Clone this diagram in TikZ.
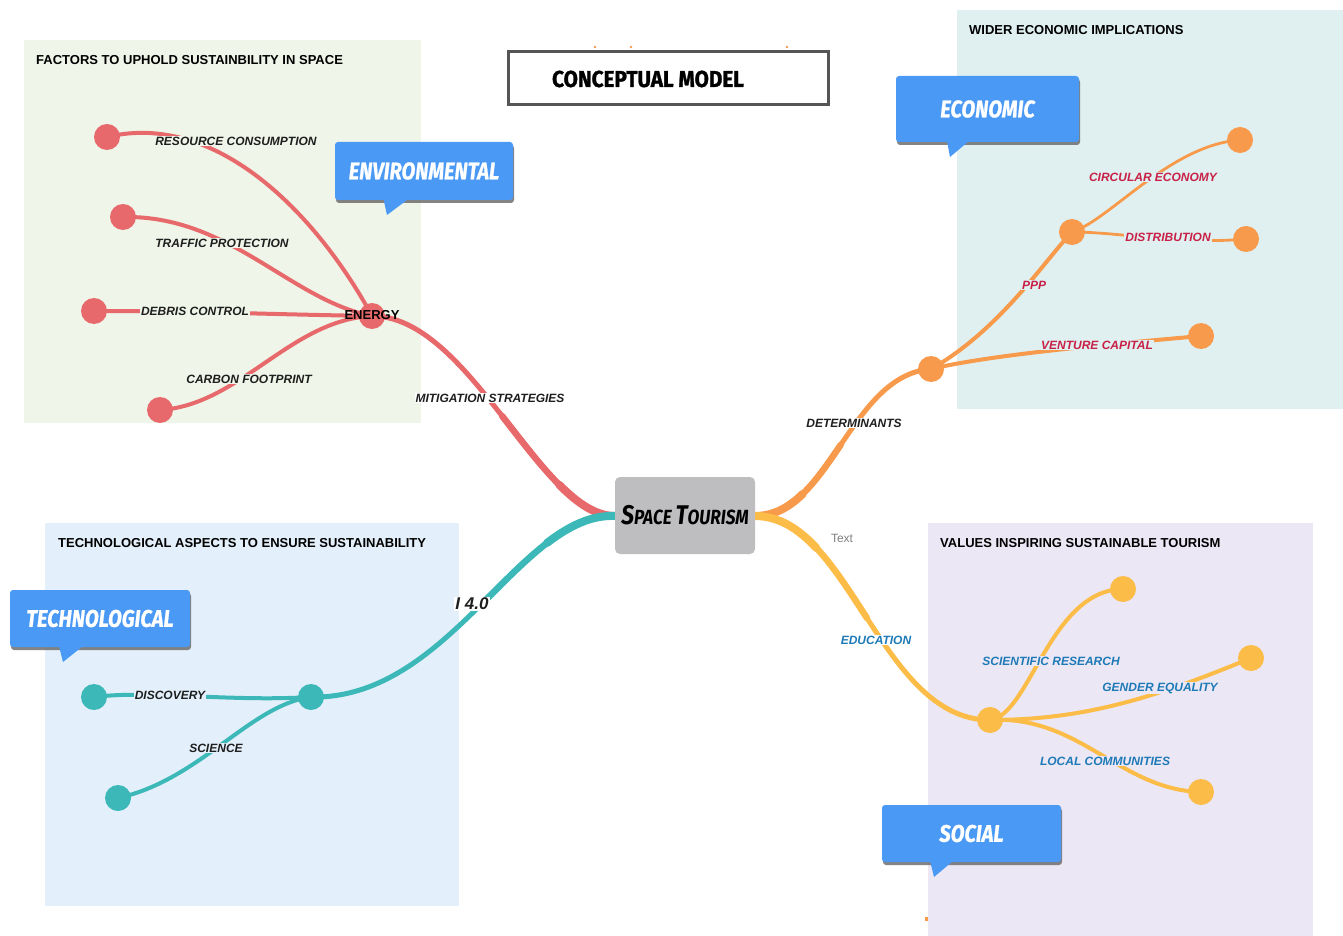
\documentclass[tikz,border=0pt]{standalone}
\usepackage{fontspec}
\setmainfont{Liberation Sans}
\newfontfamily\callfont[FakeStretch=0.84,FakeBold=0.8]{Fira Sans}
\newfontfamily\stfont[FakeStretch=0.84]{Fira Sans}
\newfontfamily\titlefont[FakeStretch=0.9,FakeBold=1.2]{Fira Sans}
\usetikzlibrary{shadows}
\pgfdeclarelayer{panels}
\pgfdeclarelayer{lines}
\pgfsetlayers{panels,lines,main}
\definecolor{cred}{RGB}{232,105,107}
\definecolor{corange}{RGB}{247,154,75}
\definecolor{cyellow}{RGB}{251,188,72}
\definecolor{cteal}{RGB}{61,184,184}
\definecolor{pgreen}{RGB}{239,245,232}
\definecolor{pecon}{RGB}{224,240,240}
\definecolor{ptech}{RGB}{227,240,251}
\definecolor{psocial}{RGB}{236,231,245}
\definecolor{cblue}{RGB}{74,153,245}
\definecolor{cgray}{RGB}{190,190,192}
\definecolor{tdark}{RGB}{30,30,30}
\definecolor{tcrimson}{RGB}{200,32,70}
\definecolor{tblue}{RGB}{30,122,182}
\definecolor{bordergray}{RGB}{85,85,85}
\begin{document}
\begin{tikzpicture}[x=1pt,y=-1pt,
  dot/.style={circle,inner sep=0pt,minimum size=26pt,fill=#1},
  lbl/.style={font=\fontsize{12}{14}\selectfont\bfseries\itshape,inner sep=1pt},
  ptitle/.style={font=\fontsize{13}{15}\selectfont\bfseries,anchor=west,inner sep=0pt,text=black},
  callout/.style={rectangle,rounded corners=3pt,fill=cblue,text=white,
    font=\callfont\bfseries\itshape\fontsize{24}{24}\selectfont,
    drop shadow={shadow xshift=1pt,shadow yshift=-3pt,fill=gray!80!black,opacity=0.8}},
  mainbr/.style={line width=5pt,#1,line cap=round},
  mainmid/.style={line width=6.5pt,#1,line cap=round},
  mainthick/.style={line width=8pt,#1,line cap=round},
  subbr/.style={line width=4pt,#1,line cap=round},
  thinbr/.style={line width=2.8pt,#1,line cap=round}
]
\useasboundingbox (0,0) rectangle (1343,936);

% panels
\begin{pgfonlayer}{panels}
\fill[white] (0,0) rectangle (1343,936);
\fill[pgreen] (24,40) rectangle (421,423);
\fill[pecon] (957,10) rectangle (1343,409);
\fill[ptech] (45,523) rectangle (459,906);
\fill[psocial] (928,523) rectangle (1313,936);
\end{pgfonlayer}

\node[ptitle] (t-env) at (36,60) {FACTORS TO UPHOLD SUSTAINBILITY IN SPACE};
\node[ptitle] (t-econ) at (969,30) {WIDER ECONOMIC IMPLICATIONS};
\node[ptitle] (t-tech) at (58,543) {TECHNOLOGICAL ASPECTS TO ENSURE SUSTAINABILITY};
\node[ptitle] (t-soc) at (940,543) {VALUES INSPIRING SUSTAINABLE TOURISM};

% title box
\node[draw=bordergray,line width=3.5pt,fill=white,minimum width=320pt,minimum height=53pt] (title) at (668.5,78) {};
\node[font=\titlefont\bfseries\fontsize{23}{23}\selectfont,inner sep=0pt] (title-text) at (648,79) {CONCEPTUAL MODEL};

% tiny marks
\fill[corange] (595,47) circle (1.3);
\fill[corange] (631,47) circle (1.3);
\fill[corange] (787,47) circle (1.3);
\fill[corange] (925,917) rectangle (928,921);

% central node
\node[rectangle,rounded corners=5pt,fill=cgray,minimum width=140pt,minimum height=77pt,inner sep=0pt,
  font=\stfont\bfseries\itshape] (st) at (685,515.5)
  {\fontsize{27}{27}\selectfont S\fontsize{20.5}{20.5}\selectfont PACE \fontsize{27}{27}\selectfont T\fontsize{20.5}{20.5}\selectfont OURISM};
\coordinate (stl) at (615,516);
\coordinate (str) at (755,516);
\coordinate (redmid) at (502.1,416);
\coordinate (redq) at (559.2,484.75);
\coordinate (tealmid) at (479.5,606.1);
\coordinate (tealq) at (546.9,543);
\coordinate (orangemid) at (840.75,444.75);
\coordinate (orangeq) at (802.75,493.9);
\coordinate (yellowmid) at (866.9,618);
\coordinate (yellowq) at (816.3,547.9);

% hub and leaf nodes
\node[dot=cred] (energy) at (372,316) {};
\node[dot=cred] (rc) at (107,137) {};
\node[dot=cred] (tp) at (123,217) {};
\node[dot=cred] (dc) at (94,311) {};
\node[dot=cred] (cf) at (160,410) {};

\node[dot=cteal] (tech) at (311,697) {};
\node[dot=cteal] (disc) at (94,697) {};
\node[dot=cteal] (sci) at (118,798) {};

\node[dot=corange] (det) at (931,369) {};
\node[dot=corange] (ppp) at (1072,232) {};
\node[dot=corange] (vc) at (1201,336) {};
\node[dot=corange] (ce) at (1240,140) {};
\node[dot=corange] (dist) at (1246,239) {};

\node[dot=cyellow] (edu) at (990,720) {};
\node[dot=cyellow] (sr) at (1123,589) {};
\node[dot=cyellow] (ge) at (1251,658) {};
\node[dot=cyellow] (lc) at (1201,792) {};

% connectors
\begin{pgfonlayer}{lines}
\draw[mainbr=cred] (stl) .. controls (540,516) and (470,316) .. (energy.center);
\draw[mainmid=cred] (stl) .. controls (577.5,516) and (541.25,466) .. (redmid);
\draw[mainthick=cred] (stl) .. controls (596.25,516) and (577.8,503.5) .. (redq);
\draw[mainbr=cteal] (stl) .. controls (520,512) and (450,700) .. (tech.center);
\draw[mainmid=cteal] (stl) .. controls (567.5,514) and (526.25,560) .. (tealmid);
\draw[mainthick=cteal] (stl) .. controls (591.25,515) and (569.1,526) .. (tealq);
\draw[mainbr=corange] (str) .. controls (830,516) and (850,375) .. (det.center);
\draw[mainmid=corange] (str) .. controls (792.5,516) and (816.25,480.75) .. (orangemid);
\draw[mainthick=corange] (str) .. controls (773.75,516) and (789.1,507.2) .. (orangeq);
\draw[mainbr=cyellow] (str) .. controls (850,516) and (880,720) .. (edu.center);
\draw[mainmid=cyellow] (str) .. controls (802.5,516) and (833.75,567) .. (yellowmid);
\draw[mainthick=cyellow] (str) .. controls (778.75,516) and (798.4,528.75) .. (yellowq);

\draw[subbr=cred] (energy.center) .. controls (320,220) and (220,110) .. (rc.center);
\draw[subbr=cred] (energy.center) .. controls (290,300) and (230,215) .. (tp.center);
\draw[subbr=cred] (energy.center) .. controls (250,314) and (200,311) .. (dc.center);
\draw[subbr=cred] (energy.center) .. controls (290,320) and (240,405) .. (cf.center);

\draw[subbr=cteal] (tech.center) .. controls (230,702) and (150,690) .. (disc.center);
\draw[subbr=cteal] (tech.center) .. controls (250,705) and (200,780) .. (sci.center);

\draw[subbr=corange] (det.center) .. controls (1000,330) and (1045,260) .. (ppp.center);
\draw[subbr=corange] (det.center) .. controls (990,355) and (1100,345) .. (vc.center);
\draw[thinbr=corange] (ppp.center) .. controls (1110,220) and (1170,145) .. (ce.center);
\draw[thinbr=corange] (ppp.center) .. controls (1120,232) and (1180,245) .. (dist.center);

\draw[subbr=cyellow] (edu.center) .. controls (1030,715) and (1050,590) .. (sr.center);
\draw[subbr=cyellow] (edu.center) .. controls (1080,720) and (1150,700) .. (ge.center);
\draw[subbr=cyellow] (edu.center) .. controls (1080,715) and (1120,790) .. (lc.center);
\end{pgfonlayer}

% branch labels
\node[font=\fontsize{13}{15}\selectfont\bfseries,inner sep=0pt,text=black] (l-energy) at (372,315) {ENERGY};
\node[lbl,fill=pgreen,text=tdark] (l-rc) at (236,141) {RESOURCE CONSUMPTION};
\node[lbl,fill=pgreen,text=tdark] (l-tp) at (222,243) {TRAFFIC PROTECTION};
\node[lbl,fill=pgreen,text=tdark] (l-dc) at (195,311) {DEBRIS CONTROL};
\node[lbl,fill=pgreen,text=tdark] (l-cf) at (249,379) {CARBON FOOTPRINT};
\node[lbl,fill=white,text=tdark] (l-ms) at (490,398) {MITIGATION STRATEGIES};

\node[lbl,fill=ptech,text=tdark] (l-disc) at (170,695) {DISCOVERY};
\node[lbl,fill=ptech,text=tdark] (l-sci) at (216,748) {SCIENCE};
\node[lbl,fill=white,text=tdark,font=\fontsize{17}{19}\selectfont\bfseries\itshape] (l-i40) at (472,604) {I 4.0};

\node[lbl,fill=white,text=tdark] (l-det) at (854,423) {DETERMINANTS};
\node[lbl,fill=pecon,text=tcrimson] (l-ppp) at (1034,285) {PPP};
\node[lbl,fill=pecon,text=tcrimson] (l-vc) at (1097,345) {VENTURE CAPITAL};
\node[lbl,fill=pecon,text=tcrimson] (l-ce) at (1153,177) {CIRCULAR ECONOMY};
\node[lbl,fill=pecon,text=tcrimson] (l-dist) at (1168,237) {DISTRIBUTION};

\node[font=\fontsize{12}{14}\selectfont,text=gray,inner sep=0pt] (l-text) at (842,538) {Text};
\node[lbl,fill=white,text=tblue] (l-edu) at (876,640) {EDUCATION};
\node[lbl,fill=psocial,text=tblue] (l-sr) at (1051,661) {SCIENTIFIC RESEARCH};
\node[lbl,fill=psocial,text=tblue] (l-ge) at (1160,688) {GENDER EQUALITY};
\node[lbl,fill=psocial,text=tblue] (l-lc) at (1105,761) {LOCAL COMMUNITIES};

% callouts
\node[callout,minimum width=178pt,minimum height=58pt] (c-env) at (424,171) {ENVIRONMENTAL};
\fill[cblue] (383,197) -- (387,215) -- (411,197) -- cycle;
\node[callout,minimum width=183pt,minimum height=66pt] (c-econ) at (987.5,109) {ECONOMIC};
\fill[cblue] (947,141) -- (950,157) -- (969,141) -- cycle;
\node[callout,minimum width=180pt,minimum height=57pt] (c-tech) at (100,618.5) {TECHNOLOGICAL};
\fill[cblue] (59,646) -- (63,662) -- (83,646) -- cycle;
\node[callout,minimum width=179pt,minimum height=57pt] (c-soc) at (971.5,833.5) {SOCIAL};
\fill[cblue] (930,861) -- (934,877) -- (953,861) -- cycle;
\end{tikzpicture}
\end{document}
